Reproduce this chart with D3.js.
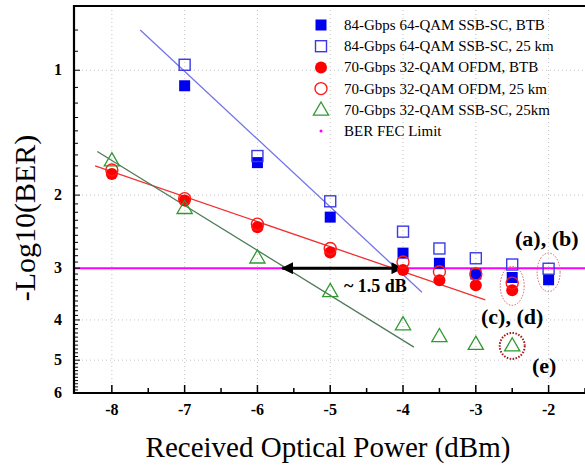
<!DOCTYPE html>
<html>
<head>
<meta charset="utf-8">
<script src="https://cdn.jsdelivr.net/npm/d3@7"></script>
<style>
  body { margin: 0; background: #fff; }
  svg { display: block; font-family: "Liberation Serif", "Times New Roman", serif; }
</style>
</head>
<body>
<div id="chart"></div>
<script>
// received optical power (dBm)
const powerA = [-7, -6, -5, -4, -3.5, -3, -2.5, -2];
const powerB = [-8, -7, -6, -5, -4, -3.5, -3, -2.5];

// -log10(BER)
const ssb84Btb  = [1.09, 1.67, 2.26, 2.76, 2.92, 3.10, 3.16, 3.20];
const ssb84Km25 = [0.97, 1.61, 2.07, 2.45, 2.69, 2.84, 2.94, 3.01];
const ofdmBtb   = [1.78, 2.06, 2.39, 2.75, 3.03, 3.21, 3.30, 3.39];
const ofdmKm25  = [1.74, 2.04, 2.35, 2.69, 2.90, 3.06, 3.10, 3.26];
const ssb70Km25 = [1.65, 2.15, 2.83, 3.41, 4.10, 4.38, 4.57, 4.61];

// linear fits drawn on the figure (end points)
const fitBlue  = [[-7.61, 0.80], [-3.74, 3.43]];
const fitRed   = [[-8.23, 1.70], [-2.87, 3.58]];
const fitGreen = [[-8.20, 1.57], [-3.85, 4.65]];

const fecLimit = 3;
const xTicks = [-8, -7, -6, -5, -4, -3, -2];
const yTicks = [1, 2, 3, 4, 5, 6];
const gridY = [1, 2, 4, 5];

const legendLabels = [
    '84-Gbps 64-QAM SSB-SC, BTB',
    '84-Gbps 64-QAM SSB-SC, 25 km',
    '70-Gbps 32-QAM OFDM, BTB',
    '70-Gbps 32-QAM OFDM, 25 km',
    '70-Gbps 32-QAM SSB-SC, 25km',
    'BER FEC Limit'
];

const width = 585, height = 466;
const plotL = 74, plotR = 585, plotT = 6, plotB = 393;

const svg = d3.select('#chart').append('svg')
    .attr('width', width)
    .attr('height', height);

const x = d3.scaleLinear().domain([-8.52, -1.5]).range([plotL, plotR]);
const y = d3.scaleLog().domain([0.7, 6]).range([plotT, plotB]);

// grid
svg.append('g').selectAll('line')
    .data(xTicks).enter().append('line')
    .attr('x1', d => x(d)).attr('x2', d => x(d))
    .attr('y1', plotT).attr('y2', plotB)
    .attr('stroke', '#c4c4c4').attr('stroke-width', 1)
    .attr('stroke-dasharray', '1,3');
svg.append('g').selectAll('line')
    .data(gridY).enter().append('line')
    .attr('x1', plotL).attr('x2', plotR)
    .attr('y1', d => y(d)).attr('y2', d => y(d))
    .attr('stroke', '#c4c4c4').attr('stroke-width', 1)
    .attr('stroke-dasharray', '1,3');

// FEC limit
svg.append('line')
    .attr('x1', plotL).attr('x2', plotR)
    .attr('y1', y(fecLimit)).attr('y2', y(fecLimit))
    .attr('stroke', '#ff00ff').attr('stroke-width', 2);

// fit lines
const line = d3.line().x(d => x(d[0])).y(d => y(d[1]));
[[fitBlue, '#7474e8'], [fitRed, '#f03030'], [fitGreen, '#4f7a5a']].forEach(([pts, col]) => {
    svg.append('path')
        .attr('d', line(pts))
        .attr('fill', 'none')
        .attr('stroke', col)
        .attr('stroke-width', 1.3);
});

// arrow ~1.5 dB
const defs = svg.append('defs');
defs.append('marker')
    .attr('id', 'ah')
    .attr('viewBox', '0 0 10 10')
    .attr('refX', 9).attr('refY', 5)
    .attr('markerWidth', 5).attr('markerHeight', 4)
    .attr('orient', 'auto-start-reverse')
    .append('path').attr('d', 'M0,0 L10,5 L0,10 z').attr('fill', '#000');
svg.append('line')
    .attr('x1', x(-5.66)).attr('x2', x(-4.01))
    .attr('y1', y(fecLimit)).attr('y2', y(fecLimit))
    .attr('stroke', '#000').attr('stroke-width', 3)
    .attr('marker-start', 'url(#ah)').attr('marker-end', 'url(#ah)');
svg.append('text')
    .attr('x', 344).attr('y', y(fecLimit) + 23.5)
    .attr('font-size', 18).attr('font-weight', 'bold')
    .text('~ 1.5 dB');

// markers
const sq = 11;
function squares(xs, ys, filled) {
    svg.append('g').selectAll('rect')
        .data(ys).enter().append('rect')
        .attr('x', (d, i) => x(xs[i]) - sq / 2)
        .attr('y', d => y(d) - sq / 2)
        .attr('width', sq).attr('height', sq)
        .attr('fill', filled ? '#0000f0' : 'none')
        .attr('stroke', filled ? '#0000f0' : '#3b3be6')
        .attr('stroke-width', filled ? 0 : 1.4);
}
function circles(xs, ys, filled) {
    svg.append('g').selectAll('circle')
        .data(ys).enter().append('circle')
        .attr('cx', (d, i) => x(xs[i]))
        .attr('cy', d => y(d))
        .attr('r', 6)
        .attr('fill', filled ? '#ff0000' : 'none')
        .attr('stroke', '#ff1a1a')
        .attr('stroke-width', filled ? 0 : 1.4);
}
const tri = d3.symbol().type(d3.symbolTriangle).size(100);
squares(powerA, ssb84Btb, true);
squares(powerA, ssb84Km25, false);
circles(powerB, ofdmBtb, true);
circles(powerB, ofdmKm25, false);
svg.append('g').selectAll('path')
    .data(ssb70Km25).enter().append('path')
    .attr('d', tri)
    .attr('transform', (d, i) => `translate(${x(powerB[i])},${y(d) + 1})`)
    .attr('fill', 'none')
    .attr('stroke', '#2f9a2f')
    .attr('stroke-width', 1.3);

// dotted ellipses and labels
svg.append('ellipse')
    .attr('cx', x(-2.5)).attr('cy', y(3.31)).attr('rx', 12).attr('ry', 19.5)
    .attr('fill', 'none').attr('stroke', '#d86060').attr('stroke-width', 1)
    .attr('stroke-dasharray', '1.5,1.5');
svg.append('ellipse')
    .attr('cx', x(-2)).attr('cy', y(3.07)).attr('rx', 11.5).attr('ry', 19.3)
    .attr('fill', 'none').attr('stroke', '#d86060').attr('stroke-width', 1)
    .attr('stroke-dasharray', '1.5,1.5');
svg.append('ellipse')
    .attr('cx', x(-2.5)).attr('cy', y(4.62)).attr('rx', 12.5).attr('ry', 13)
    .attr('fill', 'none').attr('stroke', '#a01818').attr('stroke-width', 2)
    .attr('stroke-dasharray', '1.5,1.5');

const notes = [['(a), (b)', 515, 246], ['(c), (d)', 481, 324], ['(e)', 532, 373]];
svg.append('g').selectAll('text')
    .data(notes).enter().append('text')
    .attr('x', d => d[1]).attr('y', d => d[2])
    .attr('font-size', 22).attr('font-weight', 'bold')
    .text(d => d[0]);

// frame
svg.append('path')
    .attr('d', `M${plotR},${plotT} H${plotL} V${plotB} H${plotR}`)
    .attr('fill', 'none').attr('stroke', '#000').attr('stroke-width', 2.2);

// y ticks (inward)
const yMinor = d3.range(7, 61).map(d => d / 10);
svg.append('g').selectAll('line')
    .data(yMinor).enter().append('line')
    .attr('x1', plotL).attr('x2', d => plotL + (yTicks.includes(d) ? 6 : 4))
    .attr('y1', d => y(d)).attr('y2', d => y(d))
    .attr('stroke', '#000').attr('stroke-width', 1);
svg.append('g').selectAll('text')
    .data(yTicks).enter().append('text')
    .attr('x', plotL - 12).attr('y', d => y(d) + 5)
    .attr('text-anchor', 'end')
    .attr('font-size', 16).attr('font-weight', 'bold')
    .text(d => d);

// x ticks (inward)
const xMinor = d3.range(-16, -2).map(d => d / 2);
svg.append('g').selectAll('line')
    .data(xMinor).enter().append('line')
    .attr('x1', d => x(d)).attr('x2', d => x(d))
    .attr('y1', plotB).attr('y2', d => plotB - (Number.isInteger(d) ? 8 : 5))
    .attr('stroke', '#000').attr('stroke-width', 1.5);
svg.append('g').selectAll('text')
    .data(xTicks).enter().append('text')
    .attr('x', d => x(d)).attr('y', plotB + 22)
    .attr('text-anchor', 'middle')
    .attr('font-size', 16).attr('font-weight', 'bold')
    .text(d => d);

// axis titles
svg.append('text')
    .attr('x', 328).attr('y', 457)
    .attr('text-anchor', 'middle')
    .attr('font-size', 29)
    .text('Received Optical Power (dBm)');
svg.append('text')
    .attr('transform', 'translate(35,218) rotate(-90)')
    .attr('text-anchor', 'middle')
    .attr('font-size', 30)
    .text('-Log10(BER)');

// legend
const legend = svg.append('g').attr('transform', 'translate(321,25)');
const rowH = 21.2;
legendLabels.forEach((label, i) => {
    const g = legend.append('g').attr('transform', `translate(0,${i * rowH})`);
    if (i === 0 || i === 1) {
        g.append('rect').attr('x', -sq / 2).attr('y', -sq / 2).attr('width', sq).attr('height', sq)
            .attr('fill', i === 0 ? '#0000f0' : 'none')
            .attr('stroke', i === 0 ? 'none' : '#3b3be6').attr('stroke-width', 1.4);
    } else if (i === 2 || i === 3) {
        g.append('circle').attr('r', 6)
            .attr('fill', i === 2 ? '#ff0000' : 'none')
            .attr('stroke', i === 2 ? 'none' : '#ff1a1a').attr('stroke-width', 1.4);
    } else if (i === 4) {
        g.append('path').attr('d', tri).attr('transform', 'translate(0,1)')
            .attr('fill', 'none').attr('stroke', '#2f9a2f').attr('stroke-width', 1.3);
    } else {
        g.append('circle').attr('r', 1.5).attr('fill', '#ff00ff');
    }
    g.append('text')
        .attr('x', 23).attr('y', 5)
        .attr('font-size', 15)
        .text(label);
});
</script>
</body>
</html>
